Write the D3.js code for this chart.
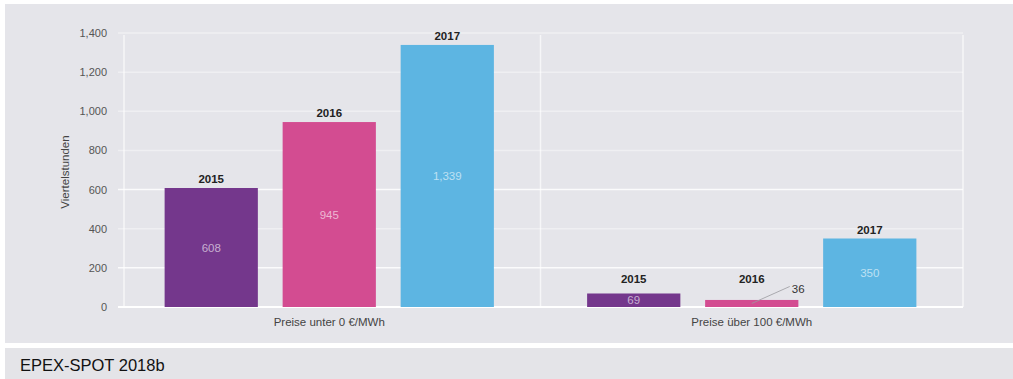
<!DOCTYPE html>
<html>
<head>
<meta charset="utf-8">
<script src="https://cdn.jsdelivr.net/npm/d3@7"></script>
<style>
  html, body { margin: 0; padding: 0; background: #ffffff; }
  svg { display: block; font-family: "Liberation Sans", Arial, sans-serif; }
</style>
</head>
<body>
<svg id="chart" width="1013" height="379"></svg>
<script>
// Price categories (groups) and years (series)
const categories = ["Preise unter 0 €/MWh", "Preise über 100 €/MWh"];
const years = ["2015", "2016", "2017"];
// Quarter hours per year, one array per category
const valuesBelowZero = [608, 945, 1339];
const valuesAbove100 = [69, 36, 350];
const yTicks = [0, 200, 400, 600, 800, 1000, 1200, 1400];
const yTitle = "Viertelstunden";
const sourceText = "EPEX-SPOT 2018b";

const yearColors = { "2015": "#74378c", "2016": "#d34c91", "2017": "#5db5e2" };

const rows = categories.map((c, i) => ({
  category: c,
  values: years.map((yr, j) => ({ year: yr, value: [valuesBelowZero, valuesAbove100][i][j] }))
}));

const svg = d3.select("#chart");
const W = 1013, H = 379;

// Panel and footer backgrounds
svg.append("rect").attr("x", 0).attr("y", 0).attr("width", W).attr("height", H).attr("fill", "#ffffff");
svg.append("rect").attr("x", 5).attr("y", 4).attr("width", W - 5).attr("height", 339).attr("fill", "#e5e5ea");
svg.append("rect").attr("x", 5).attr("y", 348).attr("width", W - 5).attr("height", H - 348).attr("fill", "#e4e4e8");

const plot = { left: 118, right: 963, top: 33, bottom: 307 };

const y = d3.scaleLinear().domain([0, 1400]).range([plot.bottom, plot.top]);
const x0 = d3.scaleBand().domain(categories).range([plot.left, plot.right]).padding(0);
const x1 = d3.scaleBand().domain(years).range([0, x0.bandwidth()])
  .paddingInner(0.21).paddingOuter(0.395);

// Horizontal gridlines
svg.append("g").selectAll("line").data(yTicks.filter(t => t > 0)).join("line")
  .attr("x1", plot.left).attr("x2", plot.right)
  .attr("y1", d => y(d)).attr("y2", d => y(d))
  .attr("stroke", "#ffffff").attr("stroke-width", 1.5)
  .attr("stroke-opacity", d => (d === 200 || d === 600) ? 0.85 : 0.4);

// Vertical frame lines: axis, group separator, right edge
const vLines = [plot.left + 6, x0(categories[1]), plot.right];
svg.append("g").selectAll("line").data(vLines).join("line")
  .attr("x1", d => d).attr("x2", d => d)
  .attr("y1", plot.top + 2).attr("y2", plot.bottom)
  .attr("stroke", "#ffffff").attr("stroke-width", 1.5).attr("stroke-opacity", 0.65);

// Baseline
svg.append("line")
  .attr("x1", plot.left).attr("x2", plot.right)
  .attr("y1", y(0)).attr("y2", y(0))
  .attr("stroke", "#ffffff").attr("stroke-width", 2);

// Y axis labels
const yAxis = d3.axisLeft(y).tickValues(yTicks).tickFormat(d3.format(",")).tickSize(0).tickPadding(0);
const yg = svg.append("g").attr("transform", `translate(107,0)`).call(yAxis);
yg.select(".domain").remove();
yg.selectAll("text").attr("font-size", 11).attr("fill", "#555").attr("font-family", "Liberation Sans, Arial, sans-serif");

// Y axis title
svg.append("text")
  .attr("transform", `translate(69,${(plot.top + plot.bottom) / 2 + 2}) rotate(-90)`)
  .attr("text-anchor", "middle")
  .attr("font-size", 11.5).attr("fill", "#444")
  .text(yTitle);

// Category labels
svg.append("g").selectAll("text").data(categories).join("text")
  .attr("x", d => x0(d) + x0.bandwidth() / 2)
  .attr("y", 326)
  .attr("text-anchor", "middle")
  .attr("font-size", 11.5).attr("fill", "#444")
  .text(d => d);

// Bars
const groups = svg.append("g").selectAll("g").data(rows).join("g")
  .attr("transform", d => `translate(${x0(d.category)},0)`);

groups.selectAll("rect").data(d => d.values).join("rect")
  .attr("x", d => x1(d.year))
  .attr("y", d => y(d.value))
  .attr("width", x1.bandwidth())
  .attr("height", d => y(0) - y(d.value))
  .attr("fill", d => yearColors[d.year]);

// Year labels above bars (kept clear of short bars)
groups.selectAll("text.year").data(d => d.values).join("text")
  .attr("class", "year")
  .attr("x", d => x1(d.year) + x1.bandwidth() / 2)
  .attr("y", d => Math.min(y(d.value) - 5, y(0) - 24))
  .attr("text-anchor", "middle")
  .attr("font-size", 11.5).attr("font-weight", "bold").attr("fill", "#222")
  .text(d => d.year);

// Value labels: inside the bar, or outside with a leader line when the bar is too thin
const fmt = d3.format(",");
groups.each(function (row) {
  const g = d3.select(this);
  row.values.forEach(d => {
    const cx = x1(d.year) + x1.bandwidth() / 2;
    const h = y(0) - y(d.value);
    if (h < 10) {
      const sx = cx, sy = y(d.value) + h / 2;
      const ex = cx + 38, ey = sy - 17;
      g.append("line")
        .attr("x1", sx).attr("y1", sy).attr("x2", ex).attr("y2", ey)
        .attr("stroke", "#9a9aa0").attr("stroke-width", 0.8);
      g.append("text")
        .attr("x", ex + 2).attr("y", ey + 7)
        .attr("font-size", 11.5).attr("fill", "#333")
        .text(fmt(d.value));
    } else {
      g.append("text")
        .attr("x", cx).attr("y", y(d.value) + h / 2 + 4)
        .attr("text-anchor", "middle")
        .attr("font-size", 11.5)
        .attr("fill", d3.interpolateRgb(yearColors[d.year], "#ffffff")(0.6))
        .text(fmt(d.value));
    }
  });
});

// Source line
svg.append("text")
  .attr("x", 20).attr("y", 371)
  .attr("font-size", 16.5).attr("fill", "#111")
  .text(sourceText);
</script>
</body>
</html>
